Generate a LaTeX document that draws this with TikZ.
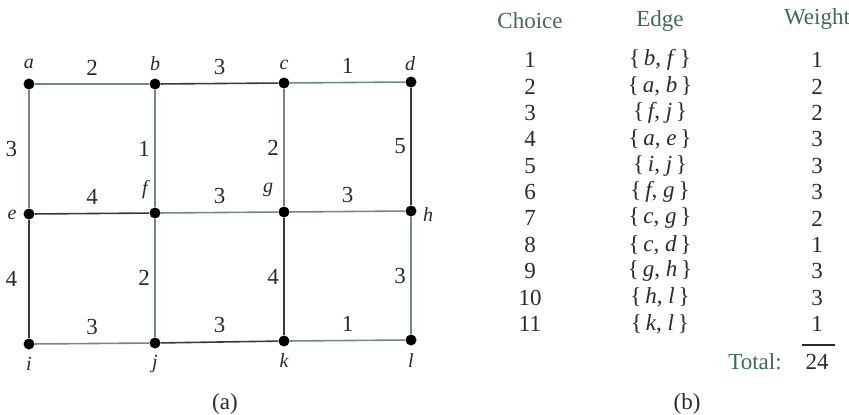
\documentclass[tikz,border=0pt]{standalone}
\usepackage{fontspec}
\setmainfont{Liberation Serif}
\usepackage{xcolor}
\usetikzlibrary{positioning}
\definecolor{Tree}{HTML}{6E8C7C}
\definecolor{Other}{HTML}{3A3A3A}
\definecolor{Head}{HTML}{3F6B55}
\definecolor{Ink}{HTML}{2A2A2A}

\tikzset{
  vtx/.style={circle,fill=black,inner sep=0pt,minimum size=5.5pt},
  tree/.style={draw=Tree,line width=0.8pt},
  other/.style={draw=Other,line width=0.8pt},
  wt/.style={text=Ink,inner sep=1pt},
  vname/.style={font=\itshape,text=Ink},
  head/.style={text=Head},
  cell/.style={text=Ink}
}

\begin{document}
\begin{tikzpicture}[x=0.5pt,y=-0.5pt,font=\fontsize{11.5}{14}\selectfont]
  \useasboundingbox (0,0) rectangle (849,414);
  % vertices
  \node[vtx] (a) at (29,84) {};  \node[vtx] (b) at (155,84) {};
  \node[vtx] (c) at (284,83) {}; \node[vtx] (d) at (411,82) {};
  \node[vtx] (e) at (29,214) {}; \node[vtx] (f) at (155,213) {};
  \node[vtx] (g) at (284,212) {};\node[vtx] (h) at (411,211) {};
  \node[vtx] (i) at (29,344) {}; \node[vtx] (j) at (155,343) {};
  \node[vtx] (k) at (284,341) {};\node[vtx] (l) at (411,340) {};
  % vertex names
  \node[vname] (na) at (29,64) {a};   \node[vname] (nb) at (155,64) {b};
  \node[vname] (nc) at (284,65) {c};  \node[vname] (nd) at (410,64) {d};
  \node[vname] (ne) at (12,215) {e};  \node[vname] (nf) at (145,190) {f};
  \node[vname] (ng) at (268,190) {g}; \node[vname] (nh) at (428,215) {h};
  \node[vname] (ni) at (29,364) {i};  \node[vname] (nj) at (155,364) {j};
  \node[vname] (nk) at (284,361) {k}; \node[vname] (nl) at (411,361) {l};
  % edges of the tree
  \draw[tree] (a) -- node[wt,above=3pt] (wab) {2} (b);
  \draw[tree] (c) -- node[wt,above=3pt] (wcd) {1} (d);
  \draw[tree] (a) -- node[wt,left=4.5pt] (wae) {3} (e);
  \draw[tree] (b) -- node[wt,left=1.2pt] (wbf) {1} (f);
  \draw[tree] (c) -- node[wt,left=1.2pt] (wcg) {2} (g);
  \draw[tree] (f) -- node[wt,above=3pt] (wfg) {3} (g);
  \draw[tree] (g) -- node[wt,above=3pt] (wgh) {3} (h);
  \draw[tree] (f) -- node[wt,left=1.2pt] (wfj) {2} (j);
  \draw[tree] (h) -- node[wt,left=1.2pt] (whl) {3} (l);
  \draw[tree] (i) -- node[wt,above=3pt] (wij) {3} (j);
  \draw[tree] (k) -- node[wt,above=3pt] (wkl) {1} (l);
  % other edges
  \draw[other] (b) -- node[wt,above=3pt] (wbc) {3} (c);
  \draw[other] (d) -- node[wt,left=1.2pt] (wdh) {5} (h);
  \draw[other] (e) -- node[wt,above=3pt] (wef) {4} (f);
  \draw[other] (e) -- node[wt,left=4.5pt] (wei) {4} (i);
  \draw[other] (g) -- node[wt,left=1.2pt] (wgk) {4} (k);
  \draw[other] (j) -- node[wt,above=3pt] (wjk) {3} (k);
  \node[cell] (capa) at (225,404) {(a)};

  % table
  \node[head] (hc) at (530,21) {Choice};
  \node[head] (he) at (660,21) {Edge};
  \node[head] (hw) at (817,19) {Weight};
  \foreach \n/\u/\v/\w in {1/b/f/1,2/a/b/2,3/f/j/2,4/a/e/3,5/i/j/3,6/f/g/3,
                           7/c/g/2,8/c/d/1,9/g/h/3,10/h/l/3,11/k/l/1}{
    \node[cell] (c\n) at (530,{60+(\n-1)*26.4}) {\n};
    \node[cell] (e\n) at (660,{60+(\n-1)*26.4}) {\{\,\textit{\u}, \textit{\v}\,\}};
    \node[cell] (w\n) at (817,{60+(\n-1)*26.4}) {\w};
  }
  \coordinate (rl) at (802,345);
  \coordinate (rr) at (835,345);
  \draw[Ink,line width=0.6pt] (rl) -- (rr);
  \node[head] (tl) at (755,362) {Total:};
  \node[cell] (tot) at (817,362) {24};
  \node[cell] (capb) at (687,404) {(b)};
\end{tikzpicture}
\end{document}
